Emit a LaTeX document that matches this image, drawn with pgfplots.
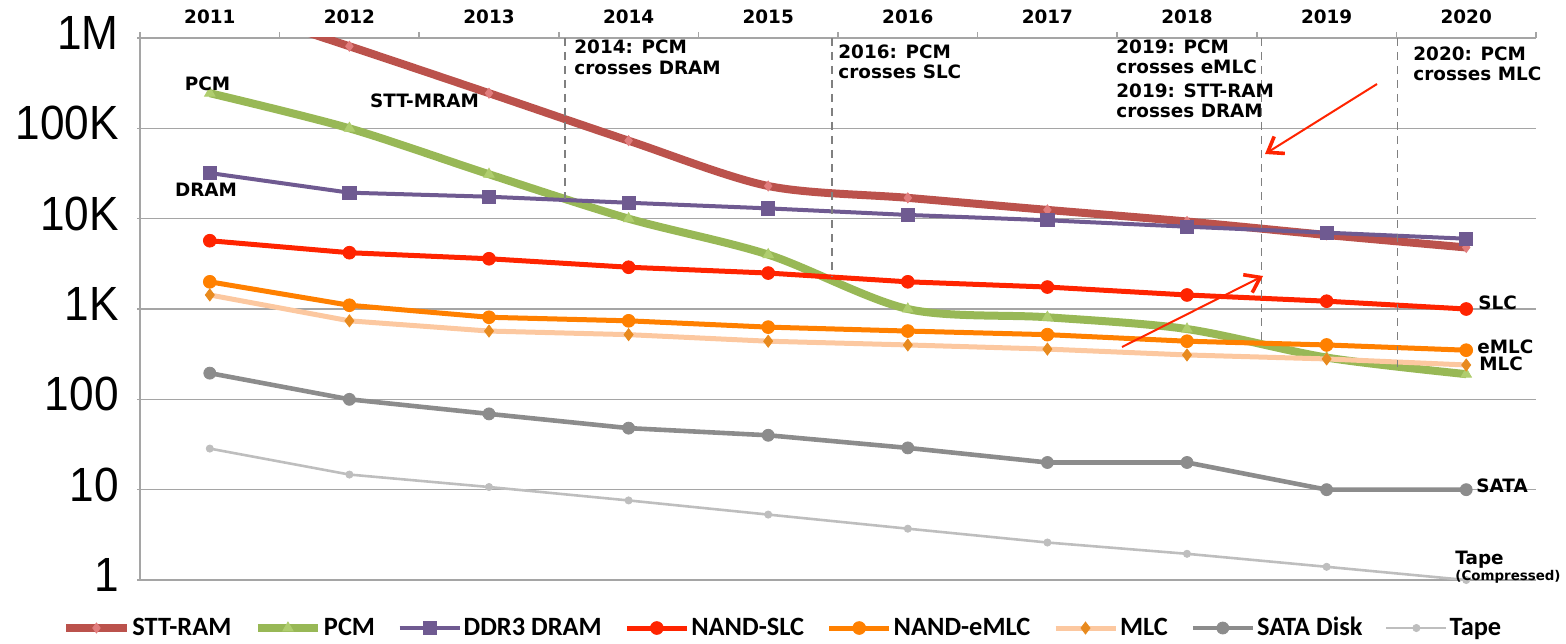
\documentclass[border=0pt]{standalone}
\usepackage{fontspec}
\usepackage{pgfplots}
\pgfplotsset{compat=1.18}
\usetikzlibrary{arrows.meta}
\setmainfont{DejaVu Sans}
\newfontfamily\djb{DejaVu Sans}
\newfontfamily\carl{Carlito}
\newfontfamily\tickf[FakeStretch=0.92]{Liberation Sans}
\newcommand\annf{\djb\bfseries\fontsize{9.2}{11}\selectfont}
\definecolor{gridc}{RGB}{165,165,165}
\definecolor{dashc}{RGB}{128,128,128}
\definecolor{sttc}{RGB}{187,82,76}
\definecolor{sttm}{RGB}{225,125,125}
\definecolor{pcmc}{RGB}{152,184,86}
\definecolor{pcmm}{RGB}{175,205,110}
\definecolor{dramc}{RGB}{111,90,145}
\definecolor{slcc}{RGB}{255,36,0}
\definecolor{emlcc}{RGB}{255,128,0}
\definecolor{mlcc}{RGB}{252,200,160}
\definecolor{mlcm}{RGB}{232,138,30}
\definecolor{satac}{RGB}{140,140,140}
\definecolor{tapec}{RGB}{190,190,190}
\definecolor{arrc}{RGB}{255,36,0}
\begin{document}
\begin{tikzpicture}
\begin{axis}[
  at={(0pt,0pt)}, anchor=south west,
  scale only axis, width=698pt, height=271pt,
  xmin=2010.5, xmax=2020.5, ymode=log, ymin=1, ymax=1e6,
  axis x line*=top, axis y line*=left,
  axis line style={draw=gridc, line width=0.75pt, -},
  xtick={2011,2012,2013,2014,2015,2016,2017,2018,2019,2020},
  xticklabels={2011,2012,2013,2014,2015,2016,2017,2018,2019,2020},
  minor xtick={2010.5,2011.5,2012.5,2013.5,2014.5,2015.5,2016.5,2017.5,2018.5,2019.5,2020.5},
  every major x tick/.append style={draw=none},
  minor tick length=3pt, major tick length=1.5pt,
  tick align=outside,
  tick style={draw=gridc, line width=0.75pt},
  ytick={1,10,100,1000,10000,100000,1000000},
  yticklabels={1,10,100,1K,10K,100K,1M},
  yminorticks=false,
  ymajorgrids, grid style={draw=gridc, line width=0.75pt},
  xticklabel style={font=\annf, inner sep=0pt, yshift=5.5pt},
  yticklabel style={font=\tickf\fontsize{24}{28}\selectfont, inner sep=0pt, yshift=2.5pt, xshift=-9pt},
  clip mode=individual,
  legend columns=8,
  legend style={at={(0.4605,-0.0886)}, anchor=center, draw=none, fill=none,
    font=\carl\bfseries\fontsize{13.2}{15}\selectfont,
    /tikz/every even column/.append style={column sep=10.3pt},
    nodes={inner sep=1pt}},
  legend image code/.code={\draw[mark repeat=2,mark phase=2,#1] plot coordinates {(0pt,0pt) (15pt,0pt) (30pt,0pt)};},
]
\addplot[sttc, line width=4pt, smooth, tension=0.5, mark=diamond*, mark size=2.5pt, mark options={fill=sttm, draw=sttm, line width=0.4pt}]
 coordinates {(2011,2600000) (2012,810000) (2013,245000) (2014,73000) (2015,23000) (2016,17000) (2017,12500) (2018,9300) (2019,6600) (2020,4800)};
\addlegendentry{STT-RAM}
\addplot[pcmc, line width=4pt, smooth, tension=0.5, mark=triangle*, mark size=3pt, mark options={fill=pcmm, draw=pcmm, line width=0.4pt}]
 coordinates {(2011,245000) (2012,100000) (2013,31000) (2014,10000) (2015,4000) (2016,1000) (2017,810) (2018,600) (2019,290) (2020,190)};
\addlegendentry{PCM}
\addplot[dramc, line width=2pt, mark=square*, mark size=3.3pt, mark options={fill=dramc, draw=dramc, line width=0.4pt}]
 coordinates {(2011,32000) (2012,19400) (2013,17500) (2014,15000) (2015,13000) (2016,11000) (2017,9600) (2018,8150) (2019,7000) (2020,6000)};
\addlegendentry{DDR3 DRAM}
\addplot[slcc, line width=2.5pt, mark=*, mark size=3.2pt, mark options={fill=slcc, draw=slcc, line width=0.4pt}]
 coordinates {(2011,5700) (2012,4200) (2013,3600) (2014,2900) (2015,2500) (2016,2000) (2017,1750) (2018,1430) (2019,1220) (2020,1000)};
\addlegendentry{NAND-SLC}
\addplot[emlcc, line width=2.5pt, mark=*, mark size=3.2pt, mark options={fill=emlcc, draw=emlcc, line width=0.4pt}]
 coordinates {(2011,2000) (2012,1100) (2013,810) (2014,740) (2015,630) (2016,570) (2017,520) (2018,440) (2019,400) (2020,350)};
\addlegendentry{NAND-eMLC}
\addplot[mlcc, line width=2.5pt, mark=diamond*, mark size=3pt, mark options={fill=mlcm, draw=mlcm, line width=0.4pt}]
 coordinates {(2011,1430) (2012,740) (2013,570) (2014,520) (2015,440) (2016,400) (2017,360) (2018,310) (2019,280) (2020,240)};
\addlegendentry{MLC}
\addplot[satac, line width=2.3pt, mark=*, mark size=3pt, mark options={fill=satac, draw=satac, line width=0.4pt}]
 coordinates {(2011,195) (2012,100) (2013,69) (2014,48) (2015,40) (2016,29) (2017,20) (2018,20) (2019,10) (2020,10)};
\addlegendentry{SATA Disk}
\addplot[tapec, line width=1.3pt, mark=*, mark size=1.8pt, mark options={fill=tapec, draw=tapec, line width=0.4pt}]
 coordinates {(2011,28.5) (2012,14.7) (2013,10.7) (2014,7.6) (2015,5.3) (2016,3.7) (2017,2.6) (2018,1.95) (2019,1.4) (2020,1)};
\addlegendentry{Tape}
\addplot[forget plot, draw=dashc, line width=0.8pt, dash pattern=on 4pt off 3pt] coordinates {(2013.545,1000000) (2013.545,16680)};
\addplot[forget plot, draw=dashc, line width=0.8pt, dash pattern=on 4pt off 3pt] coordinates {(2015.459,1000000) (2015.459,2268)};
\addplot[forget plot, draw=dashc, line width=0.8pt, dash pattern=on 4pt off 3pt] coordinates {(2018.534,1000000) (2018.534,408)};
\addplot[forget plot, draw=dashc, line width=0.8pt, dash pattern=on 4pt off 3pt] coordinates {(2019.509,1000000) (2019.509,227)};
\end{axis}
\begin{scope}[x=0.5pt, y=-0.5pt, shift={(-70pt,290pt)}]
\tikzset{ann/.style={anchor=west, inner sep=0pt, font=\annf}}
\node[ann] at (574,47) {2014: PCM};
\node[ann] at (574,68) {crosses DRAM};
\node[ann] at (838,52) {2016: PCM};
\node[ann] at (838,72) {crosses SLC};
\node[ann] at (1116,47) {2019: PCM};
\node[ann] at (1116,67) {crosses eMLC};
\node[ann] at (1116,91) {2019: STT-RAM};
\node[ann] at (1116,111) {crosses DRAM};
\node[ann] at (1413,54) {2020: PCM};
\node[ann] at (1413,74) {crosses MLC};
\node[ann, anchor=center] at (207.5,84) {PCM};
\node[ann, anchor=center] at (206,190) {DRAM};
\node[ann, anchor=center] at (424.5,101) {STT-MRAM};
\node[ann] at (1478,303) {SLC};
\node[ann] at (1477,347) {eMLC};
\node[ann] at (1479,364) {MLC};
\node[ann] at (1476,486) {SATA};
\node[ann] at (1455,560) {Tape};
\node[anchor=west, inner sep=0pt, font=\djb\bfseries\fontsize{6.7}{8}\selectfont] at (1455,577) {(Compressed)};
\draw[arrc, line width=1pt, -{Straight Barb[length=7pt,width=10pt,line width=1.8pt]}] (1377,84) -- (1265,154);
\draw[arrc, line width=1pt, -{Straight Barb[length=7pt,width=10pt,line width=1.8pt]}] (1122,347) -- (1263,276);
\pgfresetboundingbox
\path (0,0) rectangle (1566,643);
\end{scope}
\end{tikzpicture}
\end{document}
